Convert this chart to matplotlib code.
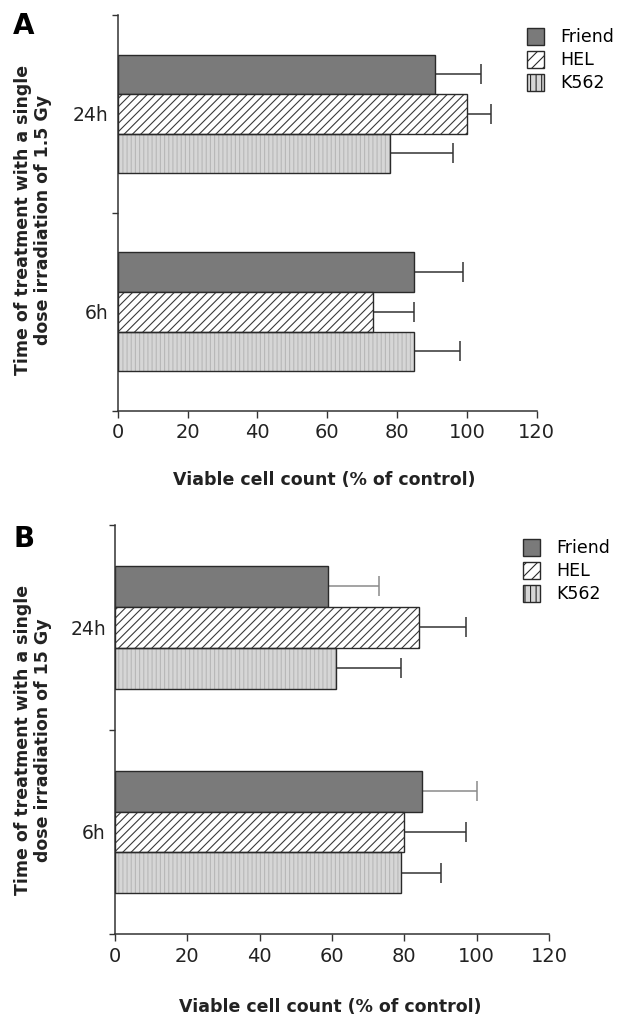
import matplotlib
matplotlib.use("Agg")
import matplotlib.pyplot as plt
from matplotlib.patches import Patch

# ---- data ----
groups = ["6h", "24h"]
series = ["Friend", "HEL", "K562"]

friend_A = [85, 91]
friend_A_err = [14, 13]
hel_A = [73, 100]
hel_A_err = [12, 7]
k562_A = [85, 78]
k562_A_err = [13, 18]

friend_B = [85, 59]
friend_B_err = [15, 14]
hel_B = [80, 84]
hel_B_err = [17, 13]
k562_B = [79, 61]
k562_B_err = [11, 18]

xticks = [0, 20, 40, 60, 80, 100, 120]
xlabel = "Viable cell count (% of control)"
ylabel_A = "Time of treatment with a single\ndose irradiation of 1.5 Gy"
ylabel_B = "Time of treatment with a single\ndose irradiation of 15 Gy"

# ---- style ----
W, H = 625, 1017
fig = plt.figure(figsize=(W / 100, H / 100), dpi=100)
fig.patch.set_facecolor("white")
plt.rcParams["hatch.linewidth"] = 0.8

FRIEND_C = "#7a7a7a"
K562_C = "#d6d6d6"
EDGE = "#2a2a2a"
SPINE = "#333333"

def px_axes(x0, x1, ytop, ybot):
    return fig.add_axes([x0 / W, 1 - ybot / H, (x1 - x0) / W, (ybot - ytop) / H])

def draw_panel(ax, vals, errs, err_colors):
    ypos = list(range(len(groups)))
    offsets = [0.2, 0.0, -0.2]
    h = 0.2
    for i, (v, e, ec) in enumerate(zip(vals, errs, err_colors)):
        ys = [y + offsets[i] for y in ypos]
        if i == 0:
            ax.barh(ys, v, height=h, color=FRIEND_C, edgecolor=EDGE, linewidth=1.0, zorder=2)
        elif i == 1:
            ax.barh(ys, v, height=h, color="white", edgecolor="#3a3a3a", linewidth=0,
                    hatch="////", zorder=2)
            ax.barh(ys, v, height=h, fill=False, edgecolor=EDGE, linewidth=1.0, zorder=3)
        else:
            ax.barh(ys, v, height=h, color=K562_C, edgecolor="#b8b8b8", linewidth=0,
                    hatch="||||", zorder=2)
            ax.barh(ys, v, height=h, fill=False, edgecolor=EDGE, linewidth=1.0, zorder=3)
        ax.errorbar(v, ys, xerr=[[0] * len(e), e], fmt="none", ecolor=ec,
                    elinewidth=1.1, capsize=7, capthick=1.1, zorder=1)
    ax.set_xlim(0, 120)
    ax.set_ylim(-0.5, 1.5)
    ax.set_xticks(xticks)
    ax.set_xticklabels([str(t) for t in xticks], fontsize=14, color="#222222")
    ax.set_yticks([-0.5, 0.5, 1.5])
    ax.set_yticklabels([])
    ax.set_yticks(ypos, minor=True)
    ax.set_yticklabels(groups, minor=True, fontsize=13.5, color="#222222")
    ax.tick_params(axis="y", which="minor", length=0, pad=6.5)
    ax.tick_params(axis="y", which="major", length=4, width=1, color=SPINE)
    ax.tick_params(axis="x", length=5, width=1, color=SPINE, pad=4)
    for s in ["top", "right"]:
        ax.spines[s].set_visible(False)
    for s in ["left", "bottom"]:
        ax.spines[s].set_color(SPINE)
        ax.spines[s].set_linewidth(1.1)
    ax.set_facecolor("none")

def legend_handles():
    return [
        Patch(facecolor=FRIEND_C, edgecolor=EDGE, linewidth=1.0),
        Patch(facecolor="white", edgecolor=EDGE, linewidth=1.0, hatch="///"),
        Patch(facecolor=K562_C, edgecolor=EDGE, linewidth=1.0, hatch="|||"),
    ]

def add_legend(x, y):
    fig.legend(legend_handles(), series, loc="upper left",
               bbox_to_anchor=(x / W, 1 - y / H), frameon=False, fontsize=12.5,
               handlelength=1.0, handleheight=1.1, handletextpad=0.9, labelspacing=0.28,
               borderpad=0, borderaxespad=0)

# Panel A
axA = px_axes(117.7, 536.7, 15, 410.7)
draw_panel(axA, [friend_A, hel_A, k562_A], [friend_A_err, hel_A_err, k562_A_err],
           ["#333333", "#333333", "#333333"])
axA.text(0.4936, -0.153, xlabel, transform=axA.transAxes, ha="center", va="top",
         fontsize=12.5, fontweight="bold", color="#222222")
fig.text(33 / W, 1 - 220 / H, ylabel_A, rotation=90, ha="center", va="center",
         multialignment="center", fontsize=12.5, fontweight="bold", color="#222222",
         linespacing=1.15)
fig.text(13 / W, 1 - 12 / H, "A", ha="left", va="top", fontsize=20, fontweight="bold")
add_legend(527, 28)

# Panel B
axB = px_axes(115, 549, 525, 934.3)
draw_panel(axB, [friend_B, hel_B, k562_B], [friend_B_err, hel_B_err, k562_B_err],
           ["#8a8a8a", "#333333", "#333333"])
axB.text(0.495, -0.156, xlabel, transform=axB.transAxes, ha="center", va="top",
         fontsize=12.5, fontweight="bold", color="#222222")
fig.text(33 / W, 1 - 740 / H, ylabel_B, rotation=90, ha="center", va="center",
         multialignment="center", fontsize=12.5, fontweight="bold", color="#222222",
         linespacing=1.15)
fig.text(13 / W, 1 - 525 / H, "B", ha="left", va="top", fontsize=20, fontweight="bold")
add_legend(523, 539)

fig.savefig("out.png", dpi=100, facecolor="white")
